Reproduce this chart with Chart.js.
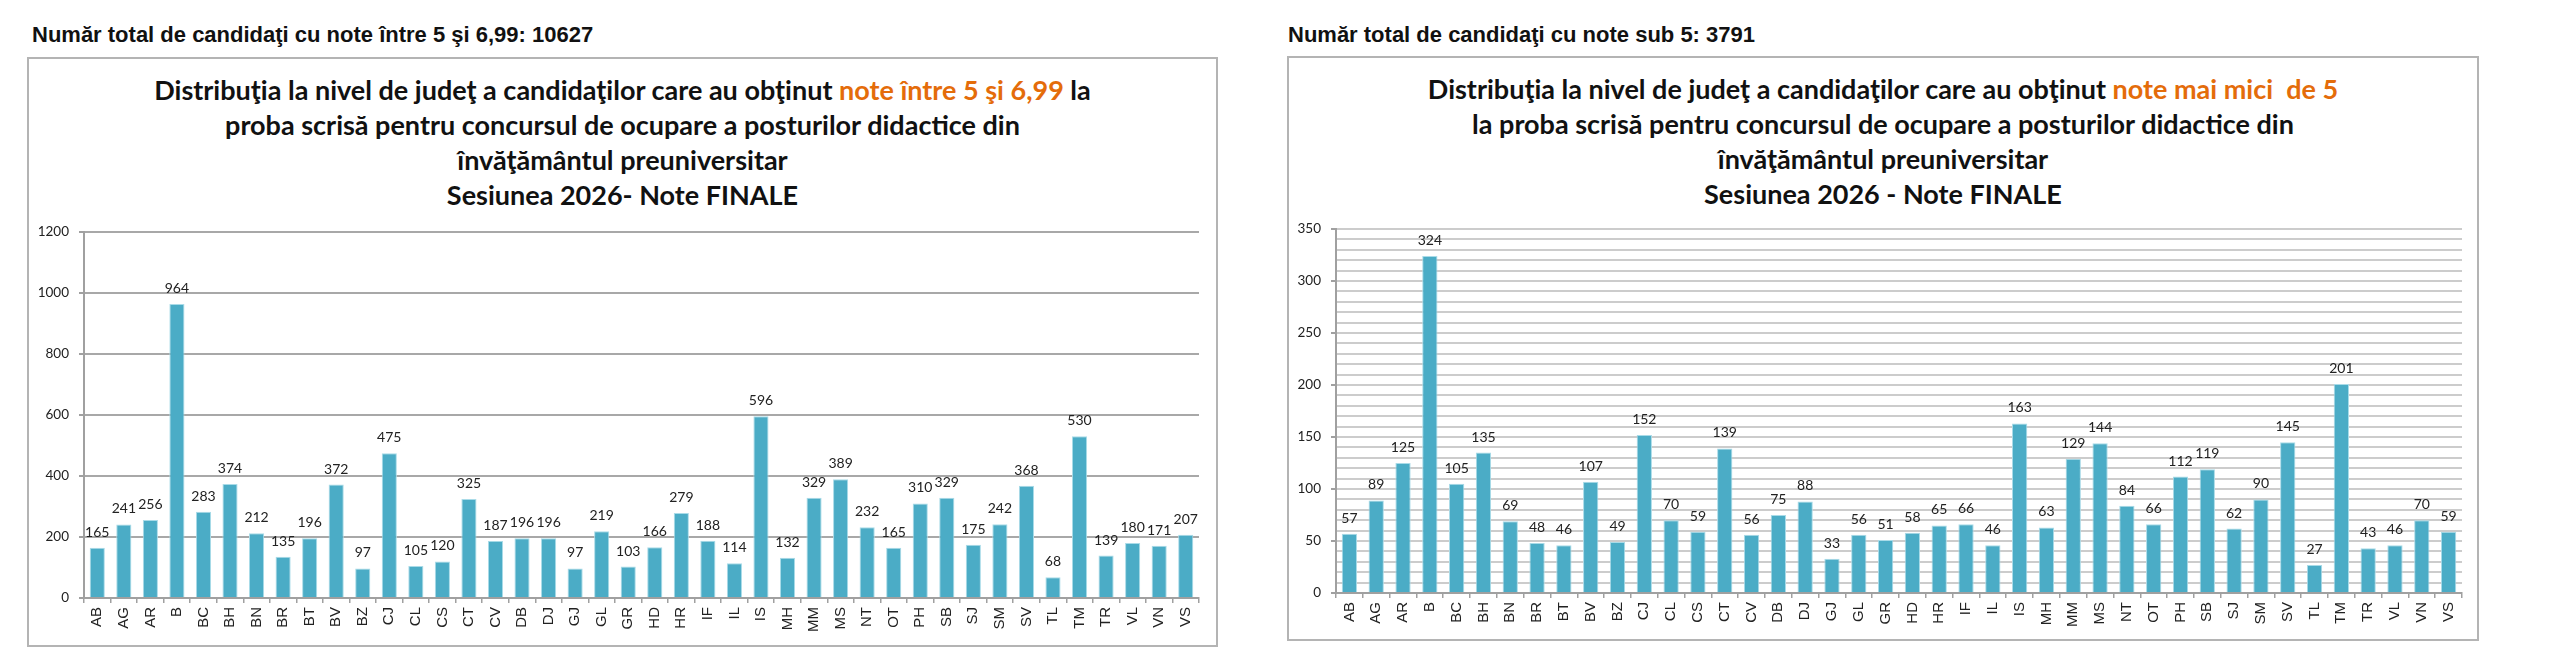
<!DOCTYPE html>
<html>
<head>
<meta charset="utf-8">
<script src="https://cdn.jsdelivr.net/npm/chart.js@4"></script>
<style>
  html, body { margin: 0; padding: 0; background: #fff; overflow: hidden; }
  body { position: relative; width: 2560px; height: 669px; }
  .header { position: absolute; top: 22px; font: bold 22px "Liberation Sans", Arial, sans-serif; line-height: 26px; color: #111; white-space: nowrap; }
  .frame { position: absolute; box-sizing: border-box; border: 2px solid #b4b4b4; }
  .title { position: absolute; top: 13px; left: 0; right: 0; text-align: center; font: bold 27px Lato, sans-serif; line-height: 35px; color: #111; white-space: nowrap; }
  .title .hl { color: #e46c0a; }
  .box { position: absolute; }
</style>
</head>
<body>
  <div class="header" style="left:32px;">Număr total de candidaţi cu note între 5 şi 6,99: 10627</div>
  <div class="frame" style="left:27px; top:57px; width:1191px; height:590px;">
    <div class="title">
      Distribuţia la nivel de judeţ a candidaţilor care au obţinut <span class="hl">note între 5 şi 6,99</span> la<br>
      proba scrisă pentru concursul de ocupare a posturilor didactice din<br>
      învăţământul preuniversitar<br>
      Sesiunea 2026- Note FINALE
    </div>
  </div>
  <div class="box" style="left:27px; top:205px; width:1191px; height:435px;"><canvas id="left"></canvas></div>

  <div class="header" style="left:1288px;">Număr total de candidaţi cu note sub 5: 3791</div>
  <div class="frame" style="left:1287px; top:56px; width:1192px; height:585px;">
    <div class="title">
      Distribuţia la nivel de judeţ a candidaţilor care au obţinut <span class="hl">note mai mici&nbsp; de 5</span><br>
      la proba scrisă pentru concursul de ocupare a posturilor didactice din<br>
      învăţământul preuniversitar<br>
      Sesiunea 2026 - Note FINALE
    </div>
  </div>
  <div class="box" style="left:1287px; top:205px; width:1192px; height:430px;"><canvas id="right"></canvas></div>

<script>
const counties = ["AB", "AG", "AR", "B", "BC", "BH", "BN", "BR", "BT", "BV", "BZ", "CJ", "CL", "CS",
  "CT", "CV", "DB", "DJ", "GJ", "GL", "GR", "HD", "HR", "IF", "IL", "IS", "MH", "MM", "MS", "NT",
  "OT", "PH", "SB", "SJ", "SM", "SV", "TL", "TM", "TR", "VL", "VN", "VS"];

// note intre 5 si 6,99 (total 10627)
const notes5to699 = [165, 241, 256, 964, 283, 374, 212, 135, 196, 372, 97, 475, 105, 120,
  325, 187, 196, 196, 97, 219, 103, 166, 279, 188, 114, 596, 132, 329, 389, 232,
  165, 310, 329, 175, 242, 368, 68, 530, 139, 180, 171, 207];

// note sub 5 (total 3791)
const notesUnder5 = [57, 89, 125, 324, 105, 135, 69, 48, 46, 107, 49, 152, 70, 59,
  139, 56, 75, 88, 33, 56, 51, 58, 65, 66, 46, 163, 63, 129, 144, 84,
  66, 112, 119, 62, 90, 145, 27, 201, 43, 46, 70, 59];

const leftAxisMax = 1200, leftAxisStep = 200, leftLabelStep = 200;
const rightAxisMax = 350, rightAxisStep = 10, rightLabelStep = 50;

const barColor = "#4bacc6";
const axisColor = "#a0a0a0";

const valueLabels = {
  id: "valueLabels",
  afterDatasetsDraw(chart) {
    const ctx = chart.ctx;
    const ds = chart.data.datasets[0];
    ctx.save();
    ctx.font = "14px Lato, sans-serif";
    ctx.fillStyle = "#222";
    ctx.textAlign = "center";
    ctx.textBaseline = "alphabetic";
    chart.getDatasetMeta(0).data.forEach((bar, i) => {
      ctx.fillText(ds.data[i], bar.x, bar.y - 11);
    });
    ctx.restore();
  }
};

function drawChart(id, values, max, step, labelStep, gridColor, axisWidth, padTop, padRight) {
  return new Chart(document.getElementById(id), {
    type: "bar",
    data: {
      labels: counties,
      datasets: [{
        data: values,
        backgroundColor: barColor,
        borderColor: "#a9dbe8",
        borderWidth: 1,
        barPercentage: 0.57,
        categoryPercentage: 1
      }]
    },
    options: {
      responsive: true,
      maintainAspectRatio: false,
      animation: false,
      layout: { padding: { top: padTop, right: padRight, left: 0, bottom: 0 } },
      plugins: { legend: { display: false }, tooltip: { enabled: false } },
      scales: {
        x: {
          grid: { display: true, drawOnChartArea: false, drawTicks: true, tickLength: 5, color: axisColor, lineWidth: 1.5, offset: true },
          border: { color: axisColor, width: 2 },
          ticks: {
            autoSkip: false, maxRotation: 90, minRotation: 90, padding: 4,
            color: "#222", font: { family: "Liberation Sans", size: 15 }
          },
          afterFit: s => { s.height = 42; }
        },
        y: {
          min: 0, max: max,
          grid: {
            color: gridColor, lineWidth: 2, drawTicks: true, tickLength: 5,
            tickColor: c => (c.tick && c.tick.value % labelStep === 0) ? axisColor : "rgba(0,0,0,0)"
          },
          border: { color: axisColor, width: 2 },
          ticks: {
            stepSize: step, autoSkip: false, padding: 10,
            color: "#222", font: { family: "Lato", size: 13.5 },
            callback: v => v % labelStep === 0 ? v : ""
          },
          afterFit: s => { s.width = axisWidth; }
        }
      }
    },
    plugins: [valueLabels]
  });
}

drawChart("left", notes5to699, leftAxisMax, leftAxisStep, leftLabelStep, "#a8a8a8", 57, 27, 19);
drawChart("right", notesUnder5, rightAxisMax, rightAxisStep, rightLabelStep, "#cccccc", 49, 24, 17);
</script>
</body>
</html>
